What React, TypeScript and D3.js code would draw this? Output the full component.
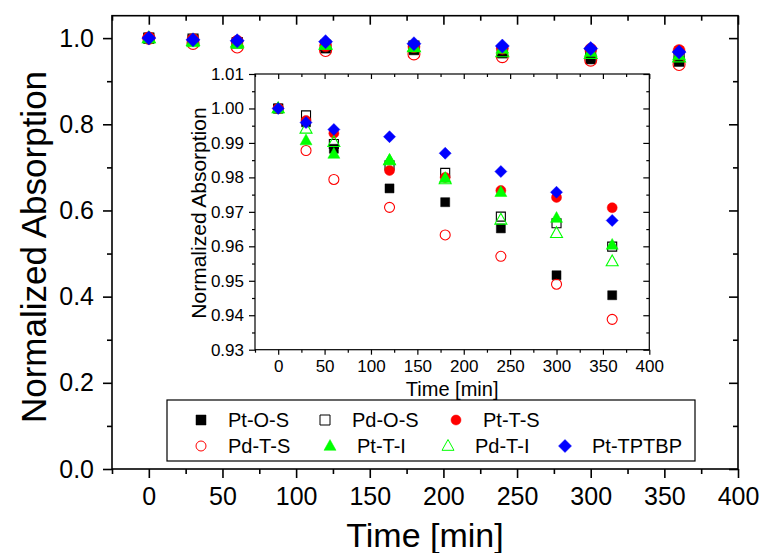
import * as d3 from "d3";
import { useEffect, useRef } from "react";

// time points (min)
const times = [0, 30, 60, 120, 180, 240, 300, 360];

// normalized absorption per sample
const ptOS = [1.0, 0.996, 0.9883, 0.9768, 0.9728, 0.9652, 0.9516, 0.9458];
const pdOS = [1.0, 0.998, 0.9897, 0.9835, 0.9813, 0.9686, 0.9667, 0.9599];
const ptTS = [1.0, 0.9965, 0.9928, 0.982, 0.980, 0.9762, 0.9742, 0.9712];
const pdTS = [1.0, 0.9878, 0.9794, 0.9713, 0.9633, 0.9571, 0.949, 0.9388];
const ptTI = [1.0, 0.9907, 0.9868, 0.985, 0.9798, 0.9757, 0.9682, 0.9604];
const pdTI = [1.0, 0.9941, 0.9902, 0.9849, 0.9794, 0.9677, 0.9638, 0.9556];
const ptTPTBP = [1.0, 0.9959, 0.9939, 0.9918, 0.987, 0.9817, 0.9757, 0.9675];

const seriesNames = ["Pt-O-S", "Pd-O-S", "Pt-T-S", "Pd-T-S", "Pt-T-I", "Pd-T-I", "Pt-TPTBP"];

const mainXTicks = [0, 50, 100, 150, 200, 250, 300, 350, 400];
const mainYTicks = [0.0, 0.2, 0.4, 0.6, 0.8, 1.0];
const insetXTicks = [0, 50, 100, 150, 200, 250, 300, 350, 400];
const insetYTicks = [0.93, 0.94, 0.95, 0.96, 0.97, 0.98, 0.99, 1.0, 1.01];

const FONT = "'Liberation Sans', Arial, Helvetica, sans-serif";

export default function App() {
  const ref = useRef<SVGSVGElement>(null);

  useEffect(() => {
    const svg = d3.select(ref.current);
    svg.selectAll("*").remove();

    const series = [
      { name: seriesNames[0], values: ptOS, shape: "square", color: "#000000", filled: true },
      { name: seriesNames[1], values: pdOS, shape: "square", color: "#000000", filled: false },
      { name: seriesNames[2], values: ptTS, shape: "circle", color: "#ff0000", filled: true },
      { name: seriesNames[3], values: pdTS, shape: "circle", color: "#ff0000", filled: false },
      { name: seriesNames[4], values: ptTI, shape: "triangle", color: "#00ff00", filled: true },
      { name: seriesNames[5], values: pdTI, shape: "triangle", color: "#00ff00", filled: false },
      { name: seriesNames[6], values: ptTPTBP, shape: "diamond", color: "#0000ff", filled: true },
    ];

    // marker path, s = nominal width in px
    function marker(shape: string, s: number) {
      const h = s / 2;
      if (shape === "square") return `M${-h},${-h}H${h}V${h}H${-h}Z`;
      if (shape === "diamond") return `M0,${-h}L${h},0L0,${h}L${-h},0Z`;
      if (shape === "triangle") {
        const th = s * 0.9;
        return `M0,${-th * 0.6}L${h},${th * 0.4}L${-h},${th * 0.4}Z`;
      }
      return d3.arc()({ innerRadius: 0, outerRadius: h, startAngle: 0, endAngle: 2 * Math.PI } as any) as string;
    }

    function drawPoints(g: any, x: any, y: any, sizes: Record<string, number>) {
      series.forEach(s => {
        g.append("g")
          .selectAll("path")
          .data(times.map((t, i) => [t, s.values[i]]))
          .join("path")
          .attr("transform", (d: number[]) => `translate(${x(d[0])},${y(d[1])})`)
          .attr("d", marker(s.shape, sizes[s.shape]))
          .attr("fill", s.filled ? s.color : "none")
          .attr("stroke", s.color)
          .attr("stroke-width", s.filled ? 0.5 : 1.1);
      });
    }

    function styleAxis(g: any, fontSize: number) {
      g.select(".domain").remove();
      g.selectAll("line").attr("stroke", "#000").attr("stroke-width", 1.6);
      g.selectAll("text").attr("font-family", FONT).attr("font-size", fontSize).attr("fill", "#000");
    }

    // ---------- main chart ----------
    const M = { left: 112, right: 738, top: 15.7, bottom: 469 };
    const x = d3.scaleLinear().domain([-25, 400]).range([M.left, M.right]);
    const y = d3.scaleLinear().domain([0, 1.052]).range([M.bottom, M.top]);
    const minorX = d3.range(-25, 401, 25);
    const minorY = d3.range(0, 1.05, 0.1);

    const gx = svg.append("g").attr("transform", `translate(0,${M.bottom})`)
      .call(d3.axisBottom(x).tickValues(mainXTicks).tickSize(9).tickPadding(9).tickFormat(d3.format("d")));
    styleAxis(gx, 25);
    svg.append("g").attr("transform", `translate(0,${M.bottom})`)
      .call(d3.axisBottom(x).tickValues(minorX.filter(v => v % 50 !== 0)).tickSize(5).tickFormat(() => ""))
      .call(g => styleAxis(g, 25));
    const gxTop = svg.append("g").attr("transform", `translate(0,${M.top})`)
      .call(d3.axisBottom(x).tickValues(mainXTicks).tickSize(9).tickFormat(() => ""));
    styleAxis(gxTop, 25);
    svg.append("g").attr("transform", `translate(0,${M.top})`)
      .call(d3.axisBottom(x).tickValues(minorX.filter(v => v % 50 !== 0)).tickSize(5).tickFormat(() => ""))
      .call(g => styleAxis(g, 25));

    const gy = svg.append("g").attr("transform", `translate(${M.left},0)`)
      .call(d3.axisLeft(y).tickValues(mainYTicks).tickSize(9).tickPadding(9).tickFormat(d3.format(".1f")));
    styleAxis(gy, 25);
    svg.append("g").attr("transform", `translate(${M.left},0)`)
      .call(d3.axisLeft(y).tickValues(minorY.filter((v, i) => i % 2 === 1)).tickSize(5).tickFormat(() => ""))
      .call(g => styleAxis(g, 25));
    svg.append("g").attr("transform", `translate(${M.right},0)`)
      .call(d3.axisLeft(y).tickValues(mainYTicks).tickSize(9).tickFormat(() => ""))
      .call(g => styleAxis(g, 25));
    svg.append("g").attr("transform", `translate(${M.right},0)`)
      .call(d3.axisLeft(y).tickValues(minorY.filter((v, i) => i % 2 === 1)).tickSize(5).tickFormat(() => ""))
      .call(g => styleAxis(g, 25));

    svg.append("rect")
      .attr("x", M.left).attr("y", M.top)
      .attr("width", M.right - M.left).attr("height", M.bottom - M.top)
      .attr("fill", "none").attr("stroke", "#000").attr("stroke-width", 1.6);

    drawPoints(svg.append("g"), x, y, { square: 10, circle: 12, triangle: 13, diamond: 14 });

    svg.append("text")
      .attr("x", (M.left + M.right) / 2).attr("y", 547)
      .attr("text-anchor", "middle")
      .attr("font-family", FONT).attr("font-size", 34)
      .text("Time [min]");
    svg.append("text")
      .attr("transform", `translate(46,247) rotate(-90)`)
      .attr("text-anchor", "middle")
      .attr("font-family", FONT).attr("font-size", 35)
      .text("Normalized Absorption");

    // ---------- inset ----------
    const I = { left: 255, right: 649.3, top: 74, bottom: 349.7 };
    const ix = d3.scaleLinear().domain([-25, 400]).range([I.left, I.right]);
    const iy = d3.scaleLinear().domain([0.93, 1.01]).range([I.bottom, I.top]);
    const iMinorX = d3.range(-25, 401, 25).filter(v => v % 50 !== 0);
    const iMinorY = d3.range(0.935, 1.01, 0.01);

    svg.append("rect")
      .attr("x", I.left).attr("y", I.top)
      .attr("width", I.right - I.left).attr("height", I.bottom - I.top)
      .attr("fill", "#fff");

    const ig = svg.append("g");
    ig.append("g").attr("transform", `translate(0,${I.bottom})`)
      .call(d3.axisBottom(ix).tickValues(insetXTicks).tickSize(5).tickPadding(5).tickFormat(d3.format("d")))
      .call(g => styleAxis(g, 17));
    ig.append("g").attr("transform", `translate(0,${I.bottom})`)
      .call(d3.axisBottom(ix).tickValues(iMinorX).tickSize(3).tickFormat(() => ""))
      .call(g => styleAxis(g, 17));
    ig.append("g").attr("transform", `translate(0,${I.top})`)
      .call(d3.axisBottom(ix).tickValues(insetXTicks).tickSize(5).tickFormat(() => ""))
      .call(g => styleAxis(g, 17));
    ig.append("g").attr("transform", `translate(0,${I.top})`)
      .call(d3.axisBottom(ix).tickValues(iMinorX).tickSize(3).tickFormat(() => ""))
      .call(g => styleAxis(g, 17));
    ig.append("g").attr("transform", `translate(${I.left},0)`)
      .call(d3.axisLeft(iy).tickValues(insetYTicks).tickSize(6).tickPadding(5).tickFormat(d3.format(".2f")))
      .call(g => styleAxis(g, 17));
    ig.append("g").attr("transform", `translate(${I.left},0)`)
      .call(d3.axisLeft(iy).tickValues(iMinorY).tickSize(3).tickFormat(() => ""))
      .call(g => styleAxis(g, 17));
    ig.append("g").attr("transform", `translate(${I.right},0)`)
      .call(d3.axisLeft(iy).tickValues(insetYTicks).tickSize(6).tickFormat(() => ""))
      .call(g => styleAxis(g, 17));
    ig.append("g").attr("transform", `translate(${I.right},0)`)
      .call(d3.axisLeft(iy).tickValues(iMinorY).tickSize(3).tickFormat(() => ""))
      .call(g => styleAxis(g, 17));
    ig.selectAll("line").attr("stroke-width", 1.2);

    ig.append("rect")
      .attr("x", I.left).attr("y", I.top)
      .attr("width", I.right - I.left).attr("height", I.bottom - I.top)
      .attr("fill", "none").attr("stroke", "#000").attr("stroke-width", 1.2);

    drawPoints(ig.append("g"), ix, iy, { square: 9, circle: 10, triangle: 12, diamond: 12 });

    ig.append("text")
      .attr("x", (I.left + I.right) / 2).attr("y", 396)
      .attr("text-anchor", "middle")
      .attr("font-family", FONT).attr("font-size", 20)
      .text("Time [min]");
    ig.append("text")
      .attr("transform", `translate(206,213) rotate(-90)`)
      .attr("text-anchor", "middle")
      .attr("font-family", FONT).attr("font-size", 21)
      .text("Normalized Absorption");

    // ---------- legend ----------
    const legendPos = [
      [201, 420], [325, 420], [456, 420],
      [201, 446], [330, 446], [448, 446], [565, 446],
    ];
    const lg = svg.append("g");
    lg.append("rect")
      .attr("x", 167).attr("y", 400).attr("width", 528).attr("height", 61)
      .attr("fill", "#fff").attr("stroke", "#000").attr("stroke-width", 1.2);
    const legendSizes: Record<string, number> = { square: 10, circle: 10, triangle: 12, diamond: 13 };
    series.forEach((s, i) => {
      const [lx, ly] = legendPos[i];
      lg.append("path")
        .attr("transform", `translate(${lx},${ly})`)
        .attr("d", marker(s.shape, legendSizes[s.shape]))
        .attr("fill", s.filled ? s.color : "none")
        .attr("stroke", s.color)
        .attr("stroke-width", s.filled ? 0.5 : 1);
      lg.append("text")
        .attr("x", lx + 27).attr("y", ly)
        .attr("dy", "0.35em")
        .attr("font-family", FONT).attr("font-size", 20)
        .text(s.name);
    });
  }, []);

  return (
    <svg
      ref={ref}
      width={763}
      height={553}
      style={{ position: "absolute", left: 0, top: 0, background: "#fff" }}
    />
  );
}
